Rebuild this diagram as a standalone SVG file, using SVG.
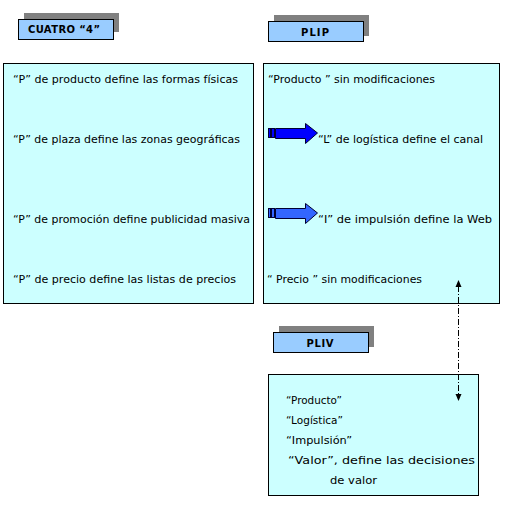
<svg xmlns="http://www.w3.org/2000/svg" width="515" height="517" viewBox="0 0 515 517">
<style>
.box{fill:#CCFFFF;stroke:#000;stroke-width:1}
.lab{fill:#99CCFF;stroke:#000;stroke-width:1}
.sh{fill:#808080}
.t{font-family:"DejaVu Sans","Liberation Sans",sans-serif;font-size:11px;fill:#000}
.h{font-family:"DejaVu Sans","Liberation Sans",sans-serif;font-size:10px;font-weight:bold;fill:#000;text-anchor:middle}
.arr{stroke:#000033;stroke-width:1}
</style>
<rect width="515" height="517" fill="#fff"/>
<g id="cuatro-label">
<rect class="sh" x="24" y="13" width="95" height="19"/>
<rect class="lab" x="18.5" y="19.5" width="95" height="20"/>
<text class="h" x="64" y="33" textLength="72">CUATRO “4”</text>
</g>
<g id="plip-label">
<rect class="sh" x="274" y="15" width="95" height="21"/>
<rect class="lab" x="268.5" y="21.5" width="95" height="20"/>
<text class="h" x="315" y="36" textLength="28">PLIP</text>
</g>
<g id="pliv-label">
<rect class="sh" x="279" y="326" width="95" height="21"/>
<rect class="lab" x="273.5" y="332.5" width="95" height="20"/>
<text class="h" x="320" y="347" textLength="27">PLIV</text>
</g>
<g id="cuatro-box">
<rect class="box" x="3.5" y="63.5" width="250" height="240"/>
<text class="t" x="13" y="83" textLength="225" lengthAdjust="spacingAndGlyphs">“P” de producto define las formas físicas</text>
<text class="t" x="13" y="143" textLength="227" lengthAdjust="spacingAndGlyphs">“P” de plaza define las zonas geográficas</text>
<text class="t" x="13" y="223" textLength="237" lengthAdjust="spacingAndGlyphs">“P” de promoción define publicidad masiva</text>
<text class="t" x="13" y="283" textLength="223" lengthAdjust="spacingAndGlyphs">“P” de precio define las listas de precios</text>
</g>
<g id="plip-box">
<rect class="box" x="263.5" y="63.5" width="236" height="240"/>
<text class="t" x="268" y="83" textLength="167" lengthAdjust="spacingAndGlyphs">“Producto ” sin modificaciones</text>
<text class="t" x="318" y="143" textLength="165" lengthAdjust="spacingAndGlyphs">“L” de logística define el canal</text>
<text class="t" x="318" y="223" textLength="174" lengthAdjust="spacingAndGlyphs">“I” de impulsión define  la Web</text>
<text class="t" x="267" y="283" textLength="155" lengthAdjust="spacingAndGlyphs">“ Precio ” sin modificaciones</text>
</g>
<g id="arrow-logistica">
<rect class="arr" x="268.5" y="128.5" width="2" height="9" fill="#0000FF"/>
<rect class="arr" x="271.5" y="128.5" width="3" height="9" fill="#0000FF"/>
<polygon class="arr" fill="#0000FF" points="275.5,128.5 305.5,128.5 305.5,123.5 317.5,133 305.5,143.5 305.5,138.5 275.5,138.5"/>
</g>
<g id="arrow-impulsion">
<rect class="arr" x="268.5" y="208.5" width="2" height="9" fill="#3366FF"/>
<rect class="arr" x="271.5" y="208.5" width="3" height="9" fill="#3366FF"/>
<polygon class="arr" fill="#3366FF" stroke="#003399" points="275.5,208.5 305.5,208.5 305.5,203.5 317.5,213 305.5,223.5 305.5,218.5 275.5,218.5"/>
</g>
<g id="pliv-box">
<rect class="box" x="268.5" y="374.5" width="210" height="121"/>
<text class="t" x="286" y="404" textLength="56" lengthAdjust="spacingAndGlyphs">“Producto”</text>
<text class="t" x="286" y="424" textLength="57" lengthAdjust="spacingAndGlyphs">“Logística”</text>
<text class="t" x="286" y="444" textLength="66" lengthAdjust="spacingAndGlyphs">“Impulsión”</text>
<text class="t" x="288" y="464" textLength="187" lengthAdjust="spacingAndGlyphs">“Valor”, define las decisiones</text>
<text class="t" x="330" y="484" textLength="47" lengthAdjust="spacingAndGlyphs">de valor</text>
</g>
<g id="connectors">
<line x1="458.5" y1="286" x2="458.5" y2="395" stroke="#000" stroke-width="1" stroke-dasharray="6,2,1,2"/>
<polygon points="458.5,280 455.5,287 461.5,287" fill="#000"/>
<polygon points="458.5,401 455.5,394 461.5,394" fill="#000"/>
</g>
</svg>
